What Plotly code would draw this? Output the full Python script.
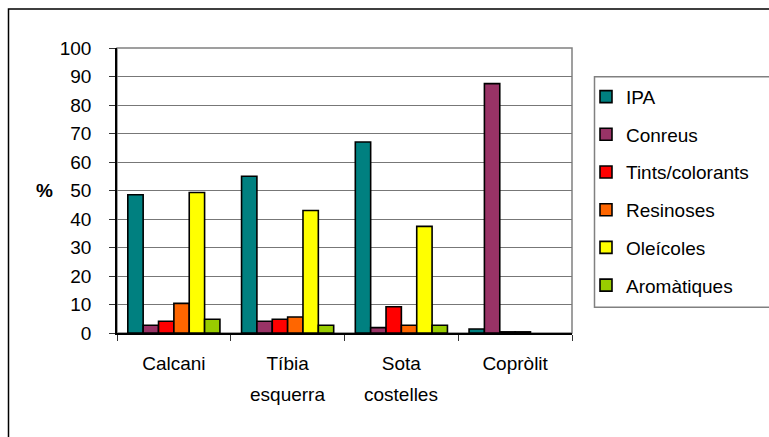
import plotly.graph_objects as go

categories = ["Calcani", "Tíbia esquerra", "Sota costelles", "Copròlit"]
label_line1 = ["Calcani", "Tíbia", "Sota", "Copròlit"]
label_line2 = ["", "esquerra", "costelles", ""]
series_names = ["IPA", "Conreus", "Tints/colorants", "Resinoses", "Oleícoles", "Aromàtiques"]
ipa = [48.5, 55.0, 67.0, 1.4]
conreus = [2.7, 4.1, 1.9, 87.5]
tints = [4.1, 4.8, 9.2, 0.4]
resinoses = [10.4, 5.6, 2.7, 0.4]
oleicoles = [49.3, 43.0, 37.4, None]
aromatiques = [4.8, 2.7, 2.7, None]
y_ticks = [0, 10, 20, 30, 40, 50, 60, 70, 80, 90, 100]

colors = ["#008080", "#993366", "#FF0000", "#FF6600", "#FFFF00", "#99CC00"]
values = [ipa, conreus, tints, resinoses, oleicoles, aromatiques]

W, H = 769, 437
L, R, T, B = 117, 572, 48.3, 332.7
FONT = "Liberation Sans, Arial, sans-serif"
FS = 19

fig = go.Figure()
for name, vals, col in zip(series_names, values, colors):
    fig.add_trace(go.Bar(
        x=categories, y=vals, name=name, legendgroup=name,
        marker=dict(color=col, line=dict(color="black", width=1.6)),
    ))

pw, ph = R - L, B - T
def px_x(x):
    return (x - L) / pw
def px_y(y):
    return (B - y) / ph

annotations = [
    dict(text="<b>%</b>", xref="paper", yref="y", x=px_x(44), y=50,
         showarrow=False, xanchor="center", yanchor="middle",
         font=dict(family=FONT, size=FS, color="black")),
]
for cat, l2 in zip(categories, label_line2):
    if l2:
        annotations.append(dict(
            text=l2, xref="x", yref="paper", x=cat, y=px_y(394),
            showarrow=False, xanchor="center", yanchor="middle",
            font=dict(family=FONT, size=FS, color="black")))

fig.update_layout(
    width=W, height=H,
    margin=dict(l=L, r=W - R, t=T, b=H - B, pad=0),
    paper_bgcolor="white", plot_bgcolor="white",
    font=dict(family=FONT, size=FS, color="black"),
    barmode="group", bargap=0.19, bargroupgap=0,
    showlegend=True,
    legend=dict(
        x=px_x(586), y=px_y(78), xanchor="left", yanchor="top",
        bgcolor="rgba(0,0,0,0)", borderwidth=0,
        font=dict(family=FONT, size=FS, color="black"),
        tracegroupgap=10, itemwidth=30,
    ),
    xaxis=dict(
        type="category", tickson="boundaries", ticks="outside", ticklen=6,
        tickcolor="#333", showline=True, linecolor="black", linewidth=1.5,
        showgrid=False, ticklabelstandoff=12,
        tickmode="array", tickvals=categories, ticktext=label_line1,
        tickfont=dict(family=FONT, size=FS),
    ),
    yaxis=dict(
        range=[0, 100], tickvals=y_ticks, ticks="outside", ticklen=6,
        tickcolor="#333", showline=True, linecolor="black", linewidth=1.5,
        showgrid=True, gridcolor="#777777", gridwidth=1, zeroline=False,
        ticklabelstandoff=14, tickfont=dict(family=FONT, size=FS),
    ),
    shapes=[
        dict(type="rect", xref="paper", yref="paper",
             x0=px_x(8.5), x1=px_x(W + 20), y0=px_y(H + 20), y1=px_y(9.5),
             line=dict(color="black", width=1.5), fillcolor="rgba(0,0,0,0)", layer="below"),
        dict(type="rect", xref="paper", yref="paper", x0=0, x1=1, y0=0, y1=1,
             line=dict(color="#808080", width=1.5), fillcolor="rgba(0,0,0,0)", layer="below"),
        dict(type="rect", xref="paper", yref="paper",
             x0=px_x(594.5), x1=px_x(W + 20), y0=px_y(307), y1=px_y(77),
             line=dict(color="#808080", width=1.5), fillcolor="rgba(0,0,0,0)", layer="below"),
    ],
    annotations=annotations,
)

fig.write_html("out.html")
